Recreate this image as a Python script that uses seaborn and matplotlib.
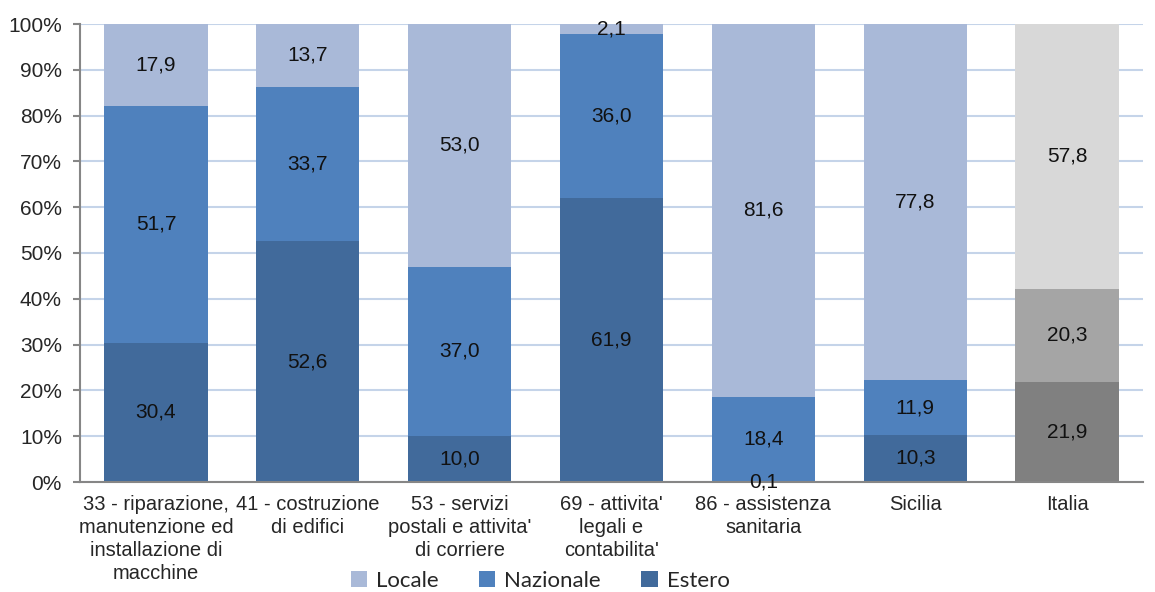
import matplotlib
matplotlib.use("Agg")
import matplotlib.pyplot as plt
from matplotlib.patches import Patch
import numpy as np
import pandas as pd
import seaborn as sns

categories = [
    "33 - riparazione,\nmanutenzione ed\ninstallazione di\nmacchine",
    "41 - costruzione\ndi edifici",
    "53 - servizi\npostali e attivita'\ndi corriere",
    "69 - attivita'\nlegali e\ncontabilita'",
    "86 - assistenza\nsanitaria",
    "Sicilia",
    "Italia",
]
estero = [30.4, 52.6, 10.0, 61.9, 0.1, 10.3, 21.9]
nazionale = [51.7, 33.7, 37.0, 36.0, 18.4, 11.9, 20.3]
locale = [17.9, 13.7, 53.0, 2.1, 81.6, 77.8, 57.8]
series_names = ["Locale", "Nazionale", "Estero"]
y_ticks = [0, 10, 20, 30, 40, 50, 60, 70, 80, 90, 100]

blue = {"Estero": "#416A9B", "Nazionale": "#4F81BD", "Locale": "#A9B9D8"}
gray = {"Estero": "#808080", "Nazionale": "#A5A5A5", "Locale": "#D8D8D8"}

sns.set_theme(style="white")
plt.rcParams["font.family"] = ["Liberation Sans", "DejaVu Sans"]

df = pd.DataFrame({
    "cat": categories,
    "Estero": estero,
    "Nazionale": nazionale,
    "Locale": locale,
})
df["top_E"] = df["Estero"]
df["top_N"] = df["Estero"] + df["Nazionale"]
df["top_L"] = df["top_N"] + df["Locale"]

fig = plt.figure(figsize=(11.55, 5.92), dpi=100)
ax = fig.add_axes([80 / 1155, 110 / 592, (1143 - 80) / 1155, (482 - 24) / 592])

# stacked bars drawn as overlapping cumulative layers, top layer first
for series, col in [("Locale", "top_L"), ("Nazionale", "top_N"), ("Estero", "top_E")]:
    pal = {c: (gray[series] if c == "Italia" else blue[series]) for c in categories}
    sns.barplot(data=df, x="cat", y=col, hue="cat", palette=pal, order=categories,
                hue_order=categories, dodge=False, width=0.68, legend=False,
                linewidth=0, saturation=1, ax=ax, zorder=3)

# value labels centred in each segment
for i in range(len(categories)):
    base = 0.0
    for vals in (estero, nazionale, locale):
        v = vals[i]
        ax.text(i, base + v / 2, f"{v:.1f}".replace(".", ","), ha="center", va="center",
                fontsize=15, color="#111111", zorder=5)
        base += v

ax.set_ylim(0, 100)
ax.set_xlim(-0.5, len(categories) - 0.5)
ax.set_yticks(y_ticks)
ax.set_yticklabels([f"{t}%" for t in y_ticks], fontsize=15)
ax.set_xticks(range(len(categories)))
ax.set_xticklabels(categories, fontsize=14.5, linespacing=1.28)
ax.set_xticks(np.arange(-0.5, len(categories), 1.0), minor=True)
ax.tick_params(axis="x", which="major", length=0, pad=9)
ax.tick_params(axis="x", which="minor", length=5, width=1.5, color="#868686", direction="out")
ax.tick_params(axis="y", length=5, width=1.5, color="#868686", direction="out", pad=8, left=True)
ax.set_xlabel("")
ax.set_ylabel("")

ax.yaxis.grid(True, color="#C5D4E9", linewidth=1.5, zorder=0)
ax.set_axisbelow(True)
for s in ["top", "right"]:
    ax.spines[s].set_visible(False)
for s in ["left", "bottom"]:
    ax.spines[s].set_color("#868686")
    ax.spines[s].set_linewidth(1.5)
    ax.spines[s].set_zorder(4)

handles = [Patch(facecolor=blue[n], edgecolor="none") for n in series_names]
fig.legend(handles, series_names, loc="center", bbox_to_anchor=(540 / 1155, 1 - 581 / 592),
           ncol=3, frameon=False, prop={"family": ["Lato", "DejaVu Sans"], "size": 16},
           handlelength=0.75, handleheight=0.75, handletextpad=0.4, columnspacing=1.8)

fig.savefig("out.png", dpi=100)
